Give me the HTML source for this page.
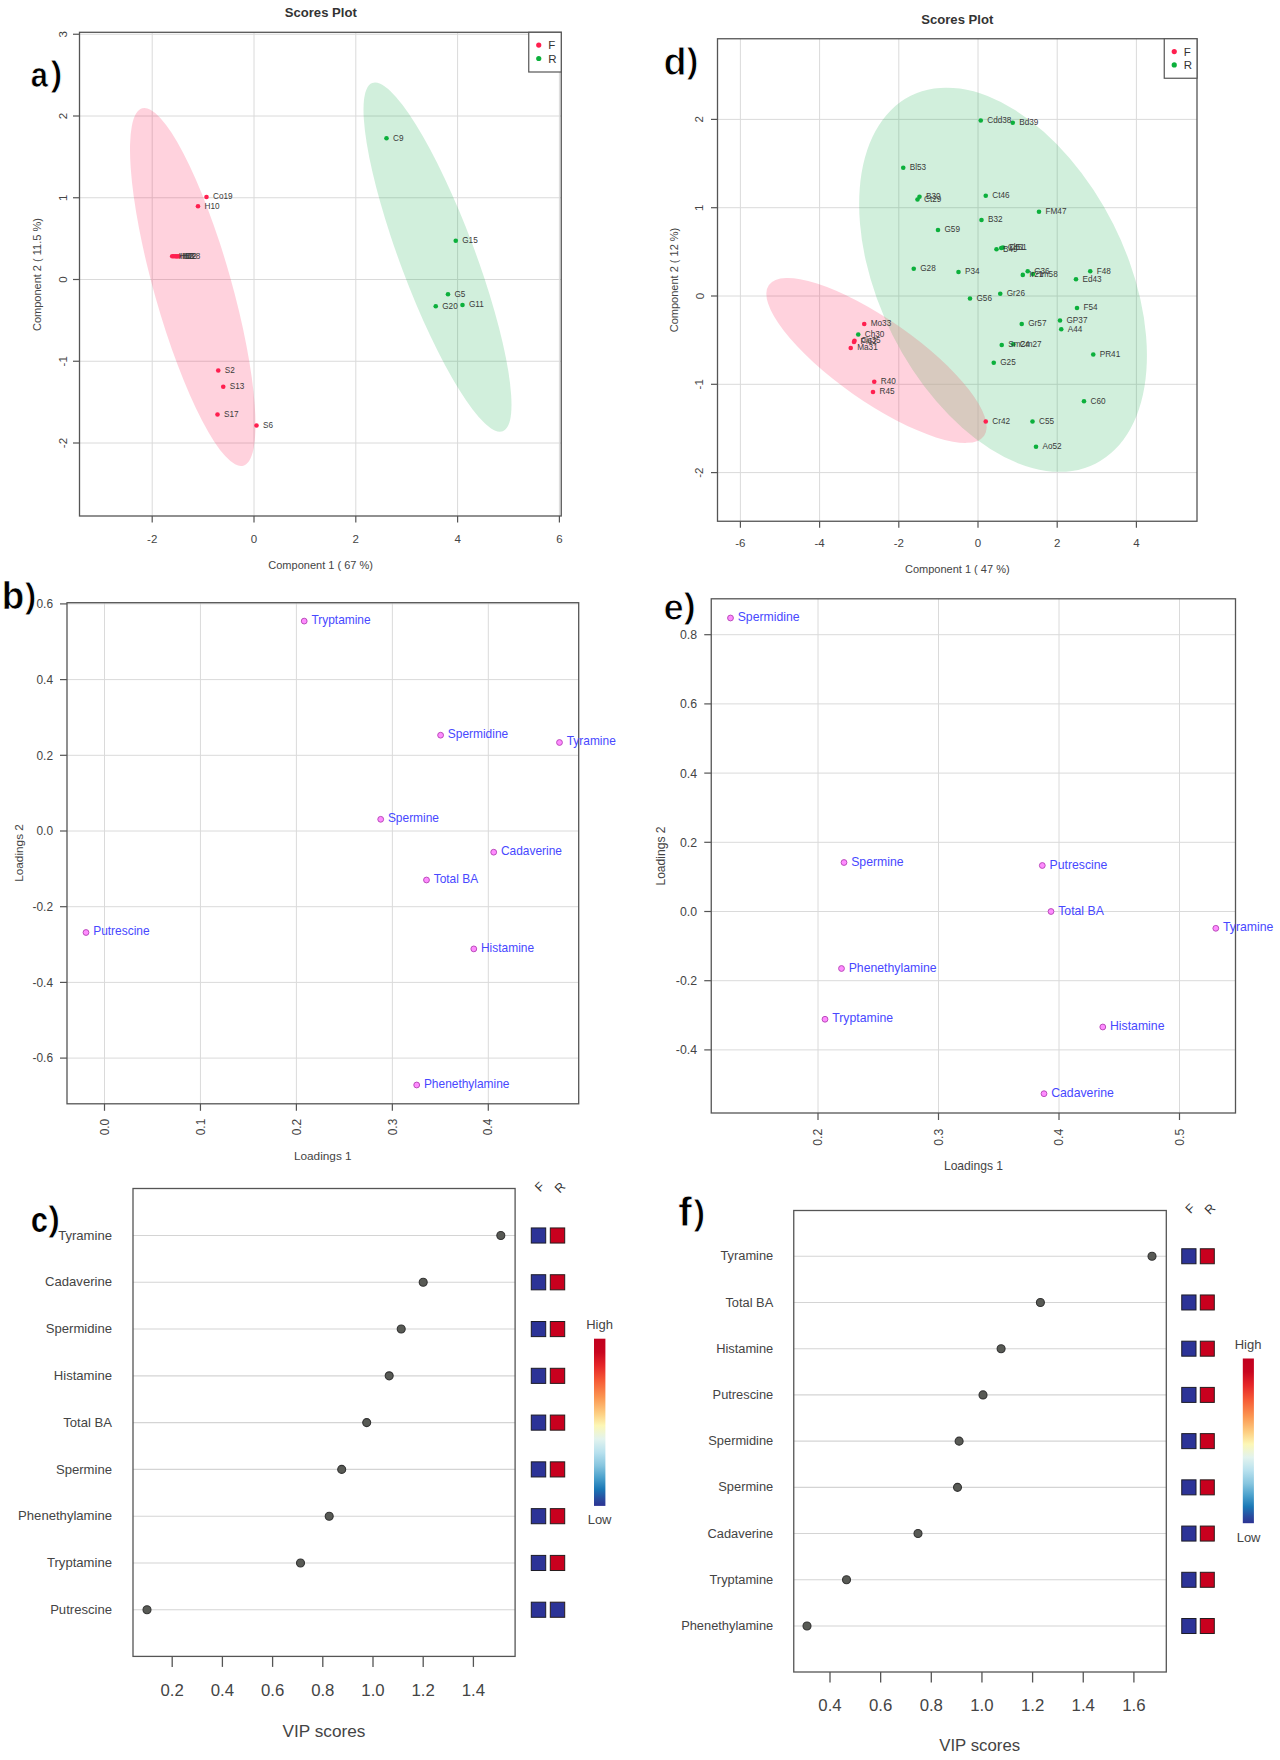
<!DOCTYPE html><html><head><meta charset="utf-8"><style>html,body{margin:0;padding:0;background:#fff;overflow:hidden;width:1280px;height:1760px;}svg{display:block;font-family:"Liberation Sans", sans-serif;}</style></head><body>
<svg width="1280" height="1760" viewBox="0 0 1280 1760">
<rect width="1280" height="1760" fill="#fff"/>
<line x1="152.2" y1="32.3" x2="152.2" y2="516" stroke="#dadada" stroke-width="1"/>
<line x1="254" y1="32.3" x2="254" y2="516" stroke="#dadada" stroke-width="1"/>
<line x1="355.8" y1="32.3" x2="355.8" y2="516" stroke="#dadada" stroke-width="1"/>
<line x1="457.6" y1="32.3" x2="457.6" y2="516" stroke="#dadada" stroke-width="1"/>
<line x1="559.4" y1="32.3" x2="559.4" y2="516" stroke="#dadada" stroke-width="1"/>
<line x1="79.5" y1="443" x2="561.25" y2="443" stroke="#dadada" stroke-width="1"/>
<line x1="79.5" y1="361.25" x2="561.25" y2="361.25" stroke="#dadada" stroke-width="1"/>
<line x1="79.5" y1="279.5" x2="561.25" y2="279.5" stroke="#dadada" stroke-width="1"/>
<line x1="79.5" y1="197.75" x2="561.25" y2="197.75" stroke="#dadada" stroke-width="1"/>
<line x1="79.5" y1="116" x2="561.25" y2="116" stroke="#dadada" stroke-width="1"/>
<line x1="79.5" y1="34.25" x2="561.25" y2="34.25" stroke="#dadada" stroke-width="1"/>
<ellipse cx="192.75" cy="287" rx="185.7" ry="38.67" transform="rotate(74.21 192.75 287)" fill="#ff1f55" fill-opacity="0.2"/>
<ellipse cx="437.5" cy="257.12" rx="185.97" ry="37.2" transform="rotate(69.45 437.5 257.12)" fill="#18b050" fill-opacity="0.2"/>
<circle cx="206.5" cy="197" r="2.3" fill="#ff1f4f"/>
<circle cx="198" cy="206.25" r="2.3" fill="#ff1f4f"/>
<circle cx="172.2" cy="256.2" r="2.3" fill="#ff1f4f"/>
<circle cx="173.8" cy="256.3" r="2.3" fill="#ff1f4f"/>
<circle cx="175.4" cy="256.2" r="2.3" fill="#ff1f4f"/>
<circle cx="177" cy="256.4" r="2.3" fill="#ff1f4f"/>
<circle cx="178.8" cy="256.2" r="2.3" fill="#ff1f4f"/>
<circle cx="218.25" cy="370.5" r="2.3" fill="#ff1f4f"/>
<circle cx="223.25" cy="386.75" r="2.3" fill="#ff1f4f"/>
<circle cx="217.5" cy="414.5" r="2.3" fill="#ff1f4f"/>
<circle cx="256.5" cy="425.5" r="2.3" fill="#ff1f4f"/>
<circle cx="386.5" cy="138.25" r="2.3" fill="#0cb03c"/>
<circle cx="455.75" cy="240.75" r="2.3" fill="#0cb03c"/>
<circle cx="448" cy="294.25" r="2.3" fill="#0cb03c"/>
<circle cx="435.75" cy="306.25" r="2.3" fill="#0cb03c"/>
<circle cx="462.5" cy="305" r="2.3" fill="#0cb03c"/>
<text x="213" y="199.4" font-size="8.2" text-anchor="start" fill="#3a3a3a">Co19</text>
<text x="204.5" y="208.65" font-size="8.2" text-anchor="start" fill="#3a3a3a">H10</text>
<text x="178.7" y="258.6" font-size="8.2" text-anchor="start" fill="#3a3a3a">H12</text>
<text x="180.3" y="258.7" font-size="8.2" text-anchor="start" fill="#3a3a3a">H7</text>
<text x="181.9" y="258.6" font-size="8.2" text-anchor="start" fill="#3a3a3a">H22</text>
<text x="183.5" y="258.8" font-size="8.2" text-anchor="start" fill="#3a3a3a">H3</text>
<text x="185.3" y="258.6" font-size="8.2" text-anchor="start" fill="#3a3a3a">H28</text>
<text x="224.75" y="372.9" font-size="8.2" text-anchor="start" fill="#3a3a3a">S2</text>
<text x="229.75" y="389.15" font-size="8.2" text-anchor="start" fill="#3a3a3a">S13</text>
<text x="224" y="416.9" font-size="8.2" text-anchor="start" fill="#3a3a3a">S17</text>
<text x="263" y="427.9" font-size="8.2" text-anchor="start" fill="#3a3a3a">S6</text>
<text x="393" y="140.65" font-size="8.2" text-anchor="start" fill="#3a3a3a">C9</text>
<text x="462.25" y="243.15" font-size="8.2" text-anchor="start" fill="#3a3a3a">G15</text>
<text x="454.5" y="296.65" font-size="8.2" text-anchor="start" fill="#3a3a3a">G5</text>
<text x="442.25" y="308.65" font-size="8.2" text-anchor="start" fill="#3a3a3a">G20</text>
<text x="469" y="307.4" font-size="8.2" text-anchor="start" fill="#3a3a3a">G11</text>
<rect x="79.5" y="32.3" width="481.75" height="483.7" fill="none" stroke="#555555" stroke-width="1.3"/>
<line x1="152.2" y1="516" x2="152.2" y2="522.5" stroke="#555555" stroke-width="1.2"/>
<text x="152.2" y="543" font-size="11.5" text-anchor="middle" fill="#444444">-2</text>
<line x1="254" y1="516" x2="254" y2="522.5" stroke="#555555" stroke-width="1.2"/>
<text x="254" y="543" font-size="11.5" text-anchor="middle" fill="#444444">0</text>
<line x1="355.8" y1="516" x2="355.8" y2="522.5" stroke="#555555" stroke-width="1.2"/>
<text x="355.8" y="543" font-size="11.5" text-anchor="middle" fill="#444444">2</text>
<line x1="457.6" y1="516" x2="457.6" y2="522.5" stroke="#555555" stroke-width="1.2"/>
<text x="457.6" y="543" font-size="11.5" text-anchor="middle" fill="#444444">4</text>
<line x1="559.4" y1="516" x2="559.4" y2="522.5" stroke="#555555" stroke-width="1.2"/>
<text x="559.4" y="543" font-size="11.5" text-anchor="middle" fill="#444444">6</text>
<line x1="73" y1="443" x2="79.5" y2="443" stroke="#555555" stroke-width="1.2"/>
<text x="66.6" y="443" font-size="11.5" text-anchor="middle" fill="#444444" transform="rotate(-90 66.6 443)">-2</text>
<line x1="73" y1="361.25" x2="79.5" y2="361.25" stroke="#555555" stroke-width="1.2"/>
<text x="66.6" y="361.25" font-size="11.5" text-anchor="middle" fill="#444444" transform="rotate(-90 66.6 361.25)">-1</text>
<line x1="73" y1="279.5" x2="79.5" y2="279.5" stroke="#555555" stroke-width="1.2"/>
<text x="66.6" y="279.5" font-size="11.5" text-anchor="middle" fill="#444444" transform="rotate(-90 66.6 279.5)">0</text>
<line x1="73" y1="197.75" x2="79.5" y2="197.75" stroke="#555555" stroke-width="1.2"/>
<text x="66.6" y="197.75" font-size="11.5" text-anchor="middle" fill="#444444" transform="rotate(-90 66.6 197.75)">1</text>
<line x1="73" y1="116" x2="79.5" y2="116" stroke="#555555" stroke-width="1.2"/>
<text x="66.6" y="116" font-size="11.5" text-anchor="middle" fill="#444444" transform="rotate(-90 66.6 116)">2</text>
<line x1="73" y1="34.25" x2="79.5" y2="34.25" stroke="#555555" stroke-width="1.2"/>
<text x="66.6" y="34.25" font-size="11.5" text-anchor="middle" fill="#444444" transform="rotate(-90 66.6 34.25)">3</text>
<text x="320.8" y="17.3" font-size="13.1" text-anchor="middle" fill="#333" font-weight="bold">Scores Plot</text>
<text x="320.6" y="569" font-size="11" text-anchor="middle" fill="#444444">Component 1 ( 67 %)</text>
<text x="41" y="274.6" font-size="11" text-anchor="middle" fill="#444444" transform="rotate(-90 41 274.6)">Component 2 ( 11.5 %)</text>
<rect x="528.75" y="32.3" width="32.5" height="39.7" fill="#fff" stroke="#555555" stroke-width="1.2"/>
<circle cx="538.75" cy="45.1" r="2.6" fill="#ff1f4f"/>
<circle cx="538.75" cy="58.5" r="2.6" fill="#0cb03c"/>
<text x="548.25" y="49.3" font-size="11.5" text-anchor="start" fill="#333">F</text>
<text x="548.25" y="62.7" font-size="11.5" text-anchor="start" fill="#333">R</text>
<line x1="740.4" y1="38.75" x2="740.4" y2="521.25" stroke="#dadada" stroke-width="1"/>
<line x1="819.6" y1="38.75" x2="819.6" y2="521.25" stroke="#dadada" stroke-width="1"/>
<line x1="898.8" y1="38.75" x2="898.8" y2="521.25" stroke="#dadada" stroke-width="1"/>
<line x1="978" y1="38.75" x2="978" y2="521.25" stroke="#dadada" stroke-width="1"/>
<line x1="1057.2" y1="38.75" x2="1057.2" y2="521.25" stroke="#dadada" stroke-width="1"/>
<line x1="1136.4" y1="38.75" x2="1136.4" y2="521.25" stroke="#dadada" stroke-width="1"/>
<line x1="717.5" y1="472.6" x2="1197" y2="472.6" stroke="#dadada" stroke-width="1"/>
<line x1="717.5" y1="384.3" x2="1197" y2="384.3" stroke="#dadada" stroke-width="1"/>
<line x1="717.5" y1="296" x2="1197" y2="296" stroke="#dadada" stroke-width="1"/>
<line x1="717.5" y1="207.7" x2="1197" y2="207.7" stroke="#dadada" stroke-width="1"/>
<line x1="717.5" y1="119.4" x2="1197" y2="119.4" stroke="#dadada" stroke-width="1"/>
<ellipse cx="1003.04" cy="279.75" rx="205.82" ry="123.47" transform="rotate(63.34 1003.04 279.75)" fill="#18b050" fill-opacity="0.2"/>
<ellipse cx="876.47" cy="360.42" rx="131.36" ry="40.86" transform="rotate(35.02 876.47 360.42)" fill="#ff1f55" fill-opacity="0.2"/>
<clipPath id="clipG"><ellipse cx="1003.04" cy="279.75" rx="205.82" ry="123.47" transform="rotate(63.34 1003.04 279.75)"/></clipPath>
<g clip-path="url(#clipG)"><ellipse cx="876.47" cy="360.42" rx="131.36" ry="40.86" transform="rotate(35.02 876.47 360.42)" fill="rgb(212,213,190)" fill-opacity="0.35"/></g>
<circle cx="980.75" cy="120.5" r="2.3" fill="#0cb03c"/>
<circle cx="1012.75" cy="122.75" r="2.3" fill="#0cb03c"/>
<circle cx="903.25" cy="167.75" r="2.3" fill="#0cb03c"/>
<circle cx="919.5" cy="196.75" r="2.3" fill="#0cb03c"/>
<circle cx="917.5" cy="199.5" r="2.3" fill="#0cb03c"/>
<circle cx="985.75" cy="195.75" r="2.3" fill="#0cb03c"/>
<circle cx="1039" cy="211.75" r="2.3" fill="#0cb03c"/>
<circle cx="981.5" cy="220" r="2.3" fill="#0cb03c"/>
<circle cx="938" cy="230" r="2.3" fill="#0cb03c"/>
<circle cx="996.5" cy="249.25" r="2.3" fill="#0cb03c"/>
<circle cx="1001.25" cy="248" r="2.3" fill="#0cb03c"/>
<circle cx="1003" cy="247.5" r="2.3" fill="#0cb03c"/>
<circle cx="913.75" cy="268.75" r="2.3" fill="#0cb03c"/>
<circle cx="958.5" cy="272" r="2.3" fill="#0cb03c"/>
<circle cx="1027.7" cy="271.2" r="2.3" fill="#0cb03c"/>
<circle cx="1022.8" cy="274.9" r="2.3" fill="#0cb03c"/>
<circle cx="1033" cy="274.1" r="2.3" fill="#0cb03c"/>
<circle cx="1090.25" cy="271.25" r="2.3" fill="#0cb03c"/>
<circle cx="1076" cy="279.25" r="2.3" fill="#0cb03c"/>
<circle cx="970" cy="298.5" r="2.3" fill="#0cb03c"/>
<circle cx="1000.25" cy="293.75" r="2.3" fill="#0cb03c"/>
<circle cx="1077" cy="308" r="2.3" fill="#0cb03c"/>
<circle cx="1060" cy="320.5" r="2.3" fill="#0cb03c"/>
<circle cx="1061.25" cy="329.25" r="2.3" fill="#0cb03c"/>
<circle cx="1021.75" cy="324" r="2.3" fill="#0cb03c"/>
<circle cx="1001.75" cy="345" r="2.3" fill="#0cb03c"/>
<circle cx="1013.25" cy="344.25" r="2.3" fill="#0cb03c"/>
<circle cx="1093.25" cy="354.5" r="2.3" fill="#0cb03c"/>
<circle cx="993.75" cy="362.75" r="2.3" fill="#0cb03c"/>
<circle cx="1084" cy="401.25" r="2.3" fill="#0cb03c"/>
<circle cx="1032.5" cy="421.5" r="2.3" fill="#0cb03c"/>
<circle cx="1036" cy="446.75" r="2.3" fill="#0cb03c"/>
<circle cx="858.25" cy="334.5" r="2.3" fill="#0cb03c"/>
<circle cx="864.25" cy="324" r="2.3" fill="#ff1f4f"/>
<circle cx="854.5" cy="340.75" r="2.3" fill="#ff1f4f"/>
<circle cx="854" cy="342" r="2.3" fill="#ff1f4f"/>
<circle cx="850.75" cy="348" r="2.3" fill="#ff1f4f"/>
<circle cx="874.25" cy="381.75" r="2.3" fill="#ff1f4f"/>
<circle cx="873" cy="392" r="2.3" fill="#ff1f4f"/>
<circle cx="985.75" cy="421.5" r="2.3" fill="#ff1f4f"/>
<text x="987.25" y="122.9" font-size="8.2" text-anchor="start" fill="#3a3a3a">Cdd38</text>
<text x="1019.25" y="125.15" font-size="8.2" text-anchor="start" fill="#3a3a3a">Bd39</text>
<text x="909.75" y="170.15" font-size="8.2" text-anchor="start" fill="#3a3a3a">Bl53</text>
<text x="926" y="199.15" font-size="8.2" text-anchor="start" fill="#3a3a3a">B30</text>
<text x="924" y="201.9" font-size="8.2" text-anchor="start" fill="#3a3a3a">Ct29</text>
<text x="992.25" y="198.15" font-size="8.2" text-anchor="start" fill="#3a3a3a">Ct46</text>
<text x="1045.5" y="214.15" font-size="8.2" text-anchor="start" fill="#3a3a3a">FM47</text>
<text x="988" y="222.4" font-size="8.2" text-anchor="start" fill="#3a3a3a">B32</text>
<text x="944.5" y="232.4" font-size="8.2" text-anchor="start" fill="#3a3a3a">G59</text>
<text x="1003" y="251.65" font-size="8.2" text-anchor="start" fill="#3a3a3a">B49</text>
<text x="1007.75" y="250.4" font-size="8.2" text-anchor="start" fill="#3a3a3a">Cl51</text>
<text x="1009.5" y="249.9" font-size="8.2" text-anchor="start" fill="#3a3a3a">Ct51</text>
<text x="920.25" y="271.15" font-size="8.2" text-anchor="start" fill="#3a3a3a">G28</text>
<text x="965" y="274.4" font-size="8.2" text-anchor="start" fill="#3a3a3a">P34</text>
<text x="1034.2" y="273.6" font-size="8.2" text-anchor="start" fill="#3a3a3a">G36</text>
<text x="1029.3" y="277.3" font-size="8.2" text-anchor="start" fill="#3a3a3a">Ir21</text>
<text x="1039.5" y="276.5" font-size="8.2" text-anchor="start" fill="#3a3a3a">Im58</text>
<text x="1096.75" y="273.65" font-size="8.2" text-anchor="start" fill="#3a3a3a">F48</text>
<text x="1082.5" y="281.65" font-size="8.2" text-anchor="start" fill="#3a3a3a">Ed43</text>
<text x="976.5" y="300.9" font-size="8.2" text-anchor="start" fill="#3a3a3a">G56</text>
<text x="1006.75" y="296.15" font-size="8.2" text-anchor="start" fill="#3a3a3a">Gr26</text>
<text x="1083.5" y="310.4" font-size="8.2" text-anchor="start" fill="#3a3a3a">F54</text>
<text x="1066.5" y="322.9" font-size="8.2" text-anchor="start" fill="#3a3a3a">GP37</text>
<text x="1067.75" y="331.65" font-size="8.2" text-anchor="start" fill="#3a3a3a">A44</text>
<text x="1028.25" y="326.4" font-size="8.2" text-anchor="start" fill="#3a3a3a">Gr57</text>
<text x="1008.25" y="347.4" font-size="8.2" text-anchor="start" fill="#3a3a3a">Sm24</text>
<text x="1019.75" y="346.65" font-size="8.2" text-anchor="start" fill="#3a3a3a">Cm27</text>
<text x="1099.75" y="356.9" font-size="8.2" text-anchor="start" fill="#3a3a3a">PR41</text>
<text x="1000.25" y="365.15" font-size="8.2" text-anchor="start" fill="#3a3a3a">G25</text>
<text x="1090.5" y="403.65" font-size="8.2" text-anchor="start" fill="#3a3a3a">C60</text>
<text x="1039" y="423.9" font-size="8.2" text-anchor="start" fill="#3a3a3a">C55</text>
<text x="1042.5" y="449.15" font-size="8.2" text-anchor="start" fill="#3a3a3a">Ao52</text>
<text x="864.75" y="336.9" font-size="8.2" text-anchor="start" fill="#3a3a3a">Ch30</text>
<text x="870.75" y="326.4" font-size="8.2" text-anchor="start" fill="#3a3a3a">Mo33</text>
<text x="861" y="343.15" font-size="8.2" text-anchor="start" fill="#3a3a3a">Cu35</text>
<text x="860.5" y="344.4" font-size="8.2" text-anchor="start" fill="#3a3a3a">Pi62</text>
<text x="857.25" y="350.4" font-size="8.2" text-anchor="start" fill="#3a3a3a">Ma31</text>
<text x="880.75" y="384.15" font-size="8.2" text-anchor="start" fill="#3a3a3a">R40</text>
<text x="879.5" y="394.4" font-size="8.2" text-anchor="start" fill="#3a3a3a">R45</text>
<text x="992.25" y="423.9" font-size="8.2" text-anchor="start" fill="#3a3a3a">Cr42</text>
<rect x="717.5" y="38.75" width="479.5" height="482.5" fill="none" stroke="#555555" stroke-width="1.3"/>
<line x1="740.4" y1="521.25" x2="740.4" y2="527.75" stroke="#555555" stroke-width="1.2"/>
<text x="740.4" y="546.5" font-size="11.5" text-anchor="middle" fill="#444444">-6</text>
<line x1="819.6" y1="521.25" x2="819.6" y2="527.75" stroke="#555555" stroke-width="1.2"/>
<text x="819.6" y="546.5" font-size="11.5" text-anchor="middle" fill="#444444">-4</text>
<line x1="898.8" y1="521.25" x2="898.8" y2="527.75" stroke="#555555" stroke-width="1.2"/>
<text x="898.8" y="546.5" font-size="11.5" text-anchor="middle" fill="#444444">-2</text>
<line x1="978" y1="521.25" x2="978" y2="527.75" stroke="#555555" stroke-width="1.2"/>
<text x="978" y="546.5" font-size="11.5" text-anchor="middle" fill="#444444">0</text>
<line x1="1057.2" y1="521.25" x2="1057.2" y2="527.75" stroke="#555555" stroke-width="1.2"/>
<text x="1057.2" y="546.5" font-size="11.5" text-anchor="middle" fill="#444444">2</text>
<line x1="1136.4" y1="521.25" x2="1136.4" y2="527.75" stroke="#555555" stroke-width="1.2"/>
<text x="1136.4" y="546.5" font-size="11.5" text-anchor="middle" fill="#444444">4</text>
<line x1="711" y1="472.6" x2="717.5" y2="472.6" stroke="#555555" stroke-width="1.2"/>
<text x="703.5" y="472.6" font-size="11.5" text-anchor="middle" fill="#444444" transform="rotate(-90 703.5 472.6)">-2</text>
<line x1="711" y1="384.3" x2="717.5" y2="384.3" stroke="#555555" stroke-width="1.2"/>
<text x="703.5" y="384.3" font-size="11.5" text-anchor="middle" fill="#444444" transform="rotate(-90 703.5 384.3)">-1</text>
<line x1="711" y1="296" x2="717.5" y2="296" stroke="#555555" stroke-width="1.2"/>
<text x="703.5" y="296" font-size="11.5" text-anchor="middle" fill="#444444" transform="rotate(-90 703.5 296)">0</text>
<line x1="711" y1="207.7" x2="717.5" y2="207.7" stroke="#555555" stroke-width="1.2"/>
<text x="703.5" y="207.7" font-size="11.5" text-anchor="middle" fill="#444444" transform="rotate(-90 703.5 207.7)">1</text>
<line x1="711" y1="119.4" x2="717.5" y2="119.4" stroke="#555555" stroke-width="1.2"/>
<text x="703.5" y="119.4" font-size="11.5" text-anchor="middle" fill="#444444" transform="rotate(-90 703.5 119.4)">2</text>
<text x="957.3" y="24.2" font-size="13.1" text-anchor="middle" fill="#333" font-weight="bold">Scores Plot</text>
<text x="957.3" y="572.5" font-size="11" text-anchor="middle" fill="#444444">Component 1 ( 47 %)</text>
<text x="677.6" y="280" font-size="11" text-anchor="middle" fill="#444444" transform="rotate(-90 677.6 280)">Component 2 ( 12 %)</text>
<rect x="1164.25" y="38.75" width="32.75" height="39.5" fill="#fff" stroke="#555555" stroke-width="1.2"/>
<circle cx="1174.25" cy="51.55" r="2.6" fill="#ff1f4f"/>
<circle cx="1174.25" cy="64.95" r="2.6" fill="#0cb03c"/>
<text x="1183.75" y="55.75" font-size="11.5" text-anchor="start" fill="#333">F</text>
<text x="1183.75" y="69.15" font-size="11.5" text-anchor="start" fill="#333">R</text>
<line x1="104.5" y1="602.7" x2="104.5" y2="1103.8" stroke="#dadada" stroke-width="1"/>
<line x1="200.45" y1="602.7" x2="200.45" y2="1103.8" stroke="#dadada" stroke-width="1"/>
<line x1="296.4" y1="602.7" x2="296.4" y2="1103.8" stroke="#dadada" stroke-width="1"/>
<line x1="392.35" y1="602.7" x2="392.35" y2="1103.8" stroke="#dadada" stroke-width="1"/>
<line x1="488.3" y1="602.7" x2="488.3" y2="1103.8" stroke="#dadada" stroke-width="1"/>
<line x1="67" y1="1058.1" x2="578.7" y2="1058.1" stroke="#dadada" stroke-width="1"/>
<line x1="67" y1="982.4" x2="578.7" y2="982.4" stroke="#dadada" stroke-width="1"/>
<line x1="67" y1="906.7" x2="578.7" y2="906.7" stroke="#dadada" stroke-width="1"/>
<line x1="67" y1="831" x2="578.7" y2="831" stroke="#dadada" stroke-width="1"/>
<line x1="67" y1="755.3" x2="578.7" y2="755.3" stroke="#dadada" stroke-width="1"/>
<line x1="67" y1="679.6" x2="578.7" y2="679.6" stroke="#dadada" stroke-width="1"/>
<line x1="67" y1="603.9" x2="578.7" y2="603.9" stroke="#dadada" stroke-width="1"/>
<rect x="67" y="602.7" width="511.7" height="501.1" fill="none" stroke="#555555" stroke-width="1.3"/>
<line x1="104.5" y1="1103.8" x2="104.5" y2="1110.8" stroke="#555555" stroke-width="1.2"/>
<text x="108.67" y="1118.75" font-size="11.9" text-anchor="end" fill="#444444" transform="rotate(-90 108.67 1118.75)">0.0</text>
<line x1="200.45" y1="1103.8" x2="200.45" y2="1110.8" stroke="#555555" stroke-width="1.2"/>
<text x="204.61" y="1118.75" font-size="11.9" text-anchor="end" fill="#444444" transform="rotate(-90 204.61 1118.75)">0.1</text>
<line x1="296.4" y1="1103.8" x2="296.4" y2="1110.8" stroke="#555555" stroke-width="1.2"/>
<text x="300.56" y="1118.75" font-size="11.9" text-anchor="end" fill="#444444" transform="rotate(-90 300.56 1118.75)">0.2</text>
<line x1="392.35" y1="1103.8" x2="392.35" y2="1110.8" stroke="#555555" stroke-width="1.2"/>
<text x="396.51" y="1118.75" font-size="11.9" text-anchor="end" fill="#444444" transform="rotate(-90 396.51 1118.75)">0.3</text>
<line x1="488.3" y1="1103.8" x2="488.3" y2="1110.8" stroke="#555555" stroke-width="1.2"/>
<text x="492.47" y="1118.75" font-size="11.9" text-anchor="end" fill="#444444" transform="rotate(-90 492.47 1118.75)">0.4</text>
<line x1="60" y1="1058.1" x2="67" y2="1058.1" stroke="#555555" stroke-width="1.2"/>
<text x="53" y="1062.38" font-size="11.9" text-anchor="end" fill="#444444">-0.6</text>
<line x1="60" y1="982.4" x2="67" y2="982.4" stroke="#555555" stroke-width="1.2"/>
<text x="53" y="986.68" font-size="11.9" text-anchor="end" fill="#444444">-0.4</text>
<line x1="60" y1="906.7" x2="67" y2="906.7" stroke="#555555" stroke-width="1.2"/>
<text x="53" y="910.98" font-size="11.9" text-anchor="end" fill="#444444">-0.2</text>
<line x1="60" y1="831" x2="67" y2="831" stroke="#555555" stroke-width="1.2"/>
<text x="53" y="835.28" font-size="11.9" text-anchor="end" fill="#444444">0.0</text>
<line x1="60" y1="755.3" x2="67" y2="755.3" stroke="#555555" stroke-width="1.2"/>
<text x="53" y="759.58" font-size="11.9" text-anchor="end" fill="#444444">0.2</text>
<line x1="60" y1="679.6" x2="67" y2="679.6" stroke="#555555" stroke-width="1.2"/>
<text x="53" y="683.88" font-size="11.9" text-anchor="end" fill="#444444">0.4</text>
<line x1="60" y1="603.9" x2="67" y2="603.9" stroke="#555555" stroke-width="1.2"/>
<text x="53" y="608.18" font-size="11.9" text-anchor="end" fill="#444444">0.6</text>
<text x="322.8" y="1159.8" font-size="11.8" text-anchor="middle" fill="#444444">Loadings 1</text>
<text x="22.5" y="853" font-size="11.8" text-anchor="middle" fill="#444444" transform="rotate(-90 22.5 853)">Loadings 2</text>
<circle cx="304.2" cy="621.1" r="2.9" fill="#ff8cff" stroke="#bb4cbb" stroke-width="1"/>
<text x="311.4" y="624.09" font-size="11.95" text-anchor="start" fill="#4848ff">Tryptamine</text>
<circle cx="440.6" cy="735.2" r="2.9" fill="#ff8cff" stroke="#bb4cbb" stroke-width="1"/>
<text x="447.8" y="738.19" font-size="11.95" text-anchor="start" fill="#4848ff">Spermidine</text>
<circle cx="559.5" cy="742.5" r="2.9" fill="#ff8cff" stroke="#bb4cbb" stroke-width="1"/>
<text x="566.7" y="745.49" font-size="11.95" text-anchor="start" fill="#4848ff">Tyramine</text>
<circle cx="380.7" cy="819.3" r="2.9" fill="#ff8cff" stroke="#bb4cbb" stroke-width="1"/>
<text x="387.9" y="822.29" font-size="11.95" text-anchor="start" fill="#4848ff">Spermine</text>
<circle cx="493.7" cy="852.2" r="2.9" fill="#ff8cff" stroke="#bb4cbb" stroke-width="1"/>
<text x="500.9" y="855.19" font-size="11.95" text-anchor="start" fill="#4848ff">Cadaverine</text>
<circle cx="426.5" cy="880" r="2.9" fill="#ff8cff" stroke="#bb4cbb" stroke-width="1"/>
<text x="433.7" y="882.99" font-size="11.95" text-anchor="start" fill="#4848ff">Total BA</text>
<circle cx="86" cy="932.5" r="2.9" fill="#ff8cff" stroke="#bb4cbb" stroke-width="1"/>
<text x="93.2" y="935.49" font-size="11.95" text-anchor="start" fill="#4848ff">Putrescine</text>
<circle cx="473.8" cy="948.9" r="2.9" fill="#ff8cff" stroke="#bb4cbb" stroke-width="1"/>
<text x="481" y="951.89" font-size="11.95" text-anchor="start" fill="#4848ff">Histamine</text>
<circle cx="416.7" cy="1085" r="2.9" fill="#ff8cff" stroke="#bb4cbb" stroke-width="1"/>
<text x="423.9" y="1087.99" font-size="11.95" text-anchor="start" fill="#4848ff">Phenethylamine</text>
<line x1="818" y1="598.8" x2="818" y2="1113" stroke="#dadada" stroke-width="1"/>
<line x1="938.5" y1="598.8" x2="938.5" y2="1113" stroke="#dadada" stroke-width="1"/>
<line x1="1059" y1="598.8" x2="1059" y2="1113" stroke="#dadada" stroke-width="1"/>
<line x1="1179.5" y1="598.8" x2="1179.5" y2="1113" stroke="#dadada" stroke-width="1"/>
<line x1="711.25" y1="1049.9" x2="1235.5" y2="1049.9" stroke="#dadada" stroke-width="1"/>
<line x1="711.25" y1="980.7" x2="1235.5" y2="980.7" stroke="#dadada" stroke-width="1"/>
<line x1="711.25" y1="911.5" x2="1235.5" y2="911.5" stroke="#dadada" stroke-width="1"/>
<line x1="711.25" y1="842.3" x2="1235.5" y2="842.3" stroke="#dadada" stroke-width="1"/>
<line x1="711.25" y1="773.1" x2="1235.5" y2="773.1" stroke="#dadada" stroke-width="1"/>
<line x1="711.25" y1="703.9" x2="1235.5" y2="703.9" stroke="#dadada" stroke-width="1"/>
<line x1="711.25" y1="634.7" x2="1235.5" y2="634.7" stroke="#dadada" stroke-width="1"/>
<rect x="711.25" y="598.8" width="524.25" height="514.2" fill="none" stroke="#555555" stroke-width="1.3"/>
<line x1="818" y1="1113" x2="818" y2="1120" stroke="#555555" stroke-width="1.2"/>
<text x="822.3" y="1128.75" font-size="12.3" text-anchor="end" fill="#444444" transform="rotate(-90 822.3 1128.75)">0.2</text>
<line x1="938.5" y1="1113" x2="938.5" y2="1120" stroke="#555555" stroke-width="1.2"/>
<text x="942.8" y="1128.75" font-size="12.3" text-anchor="end" fill="#444444" transform="rotate(-90 942.8 1128.75)">0.3</text>
<line x1="1059" y1="1113" x2="1059" y2="1120" stroke="#555555" stroke-width="1.2"/>
<text x="1063.31" y="1128.75" font-size="12.3" text-anchor="end" fill="#444444" transform="rotate(-90 1063.31 1128.75)">0.4</text>
<line x1="1179.5" y1="1113" x2="1179.5" y2="1120" stroke="#555555" stroke-width="1.2"/>
<text x="1183.81" y="1128.75" font-size="12.3" text-anchor="end" fill="#444444" transform="rotate(-90 1183.81 1128.75)">0.5</text>
<line x1="704.25" y1="1049.9" x2="711.25" y2="1049.9" stroke="#555555" stroke-width="1.2"/>
<text x="697" y="1054.33" font-size="12.3" text-anchor="end" fill="#444444">-0.4</text>
<line x1="704.25" y1="980.7" x2="711.25" y2="980.7" stroke="#555555" stroke-width="1.2"/>
<text x="697" y="985.13" font-size="12.3" text-anchor="end" fill="#444444">-0.2</text>
<line x1="704.25" y1="911.5" x2="711.25" y2="911.5" stroke="#555555" stroke-width="1.2"/>
<text x="697" y="915.93" font-size="12.3" text-anchor="end" fill="#444444">0.0</text>
<line x1="704.25" y1="842.3" x2="711.25" y2="842.3" stroke="#555555" stroke-width="1.2"/>
<text x="697" y="846.73" font-size="12.3" text-anchor="end" fill="#444444">0.2</text>
<line x1="704.25" y1="773.1" x2="711.25" y2="773.1" stroke="#555555" stroke-width="1.2"/>
<text x="697" y="777.53" font-size="12.3" text-anchor="end" fill="#444444">0.4</text>
<line x1="704.25" y1="703.9" x2="711.25" y2="703.9" stroke="#555555" stroke-width="1.2"/>
<text x="697" y="708.33" font-size="12.3" text-anchor="end" fill="#444444">0.6</text>
<line x1="704.25" y1="634.7" x2="711.25" y2="634.7" stroke="#555555" stroke-width="1.2"/>
<text x="697" y="639.13" font-size="12.3" text-anchor="end" fill="#444444">0.8</text>
<text x="973.5" y="1170" font-size="12.1" text-anchor="middle" fill="#444444">Loadings 1</text>
<text x="665" y="856" font-size="12.1" text-anchor="middle" fill="#444444" transform="rotate(-90 665 856)">Loadings 2</text>
<circle cx="730.5" cy="618" r="2.9" fill="#ff8cff" stroke="#bb4cbb" stroke-width="1"/>
<text x="737.7" y="621.06" font-size="12.25" text-anchor="start" fill="#4848ff">Spermidine</text>
<circle cx="844" cy="862.5" r="2.9" fill="#ff8cff" stroke="#bb4cbb" stroke-width="1"/>
<text x="851.2" y="865.56" font-size="12.25" text-anchor="start" fill="#4848ff">Spermine</text>
<circle cx="1042.3" cy="865.5" r="2.9" fill="#ff8cff" stroke="#bb4cbb" stroke-width="1"/>
<text x="1049.5" y="868.56" font-size="12.25" text-anchor="start" fill="#4848ff">Putrescine</text>
<circle cx="1051" cy="911.5" r="2.9" fill="#ff8cff" stroke="#bb4cbb" stroke-width="1"/>
<text x="1058.2" y="914.56" font-size="12.25" text-anchor="start" fill="#4848ff">Total BA</text>
<circle cx="1215.8" cy="928.3" r="2.9" fill="#ff8cff" stroke="#bb4cbb" stroke-width="1"/>
<text x="1223" y="931.36" font-size="12.25" text-anchor="start" fill="#4848ff">Tyramine</text>
<circle cx="841.5" cy="968.5" r="2.9" fill="#ff8cff" stroke="#bb4cbb" stroke-width="1"/>
<text x="848.7" y="971.56" font-size="12.25" text-anchor="start" fill="#4848ff">Phenethylamine</text>
<circle cx="825" cy="1019.25" r="2.9" fill="#ff8cff" stroke="#bb4cbb" stroke-width="1"/>
<text x="832.2" y="1022.31" font-size="12.25" text-anchor="start" fill="#4848ff">Tryptamine</text>
<circle cx="1102.8" cy="1027" r="2.9" fill="#ff8cff" stroke="#bb4cbb" stroke-width="1"/>
<text x="1110" y="1030.06" font-size="12.25" text-anchor="start" fill="#4848ff">Histamine</text>
<circle cx="1044" cy="1093.7" r="2.9" fill="#ff8cff" stroke="#bb4cbb" stroke-width="1"/>
<text x="1051.2" y="1096.76" font-size="12.25" text-anchor="start" fill="#4848ff">Cadaverine</text>
<defs><linearGradient id="cbar" x1="0" y1="0" x2="0" y2="1"><stop offset="0.0" stop-color="#c1001f"/><stop offset="0.08" stop-color="#c8051f"/><stop offset="0.16" stop-color="#e52528"/><stop offset="0.25" stop-color="#f65a35"/><stop offset="0.35" stop-color="#fb9550"/><stop offset="0.45" stop-color="#fdd083"/><stop offset="0.52" stop-color="#fcf7b6"/><stop offset="0.6" stop-color="#e2f3ee"/><stop offset="0.68" stop-color="#b8e1ee"/><stop offset="0.76" stop-color="#86c5df"/><stop offset="0.83" stop-color="#4ca2cd"/><stop offset="0.9" stop-color="#1a78b6"/><stop offset="0.96" stop-color="#2a4a9e"/><stop offset="1.0" stop-color="#2c3393"/></linearGradient></defs>
<line x1="133" y1="1235.5" x2="515.1" y2="1235.5" stroke="#d4d4d4" stroke-width="1.1"/>
<line x1="133" y1="1282.28" x2="515.1" y2="1282.28" stroke="#d4d4d4" stroke-width="1.1"/>
<line x1="133" y1="1329.06" x2="515.1" y2="1329.06" stroke="#d4d4d4" stroke-width="1.1"/>
<line x1="133" y1="1375.84" x2="515.1" y2="1375.84" stroke="#d4d4d4" stroke-width="1.1"/>
<line x1="133" y1="1422.62" x2="515.1" y2="1422.62" stroke="#d4d4d4" stroke-width="1.1"/>
<line x1="133" y1="1469.4" x2="515.1" y2="1469.4" stroke="#d4d4d4" stroke-width="1.1"/>
<line x1="133" y1="1516.18" x2="515.1" y2="1516.18" stroke="#d4d4d4" stroke-width="1.1"/>
<line x1="133" y1="1562.96" x2="515.1" y2="1562.96" stroke="#d4d4d4" stroke-width="1.1"/>
<line x1="133" y1="1609.74" x2="515.1" y2="1609.74" stroke="#d4d4d4" stroke-width="1.1"/>
<rect x="133" y="1188.5" width="382.1" height="467.9" fill="none" stroke="#555555" stroke-width="1.3"/>
<line x1="172.2" y1="1656.4" x2="172.2" y2="1666.9" stroke="#555555" stroke-width="1.3"/>
<text x="172.2" y="1695.5" font-size="16.8" text-anchor="middle" fill="#444444">0.2</text>
<line x1="222.4" y1="1656.4" x2="222.4" y2="1666.9" stroke="#555555" stroke-width="1.3"/>
<text x="222.4" y="1695.5" font-size="16.8" text-anchor="middle" fill="#444444">0.4</text>
<line x1="272.6" y1="1656.4" x2="272.6" y2="1666.9" stroke="#555555" stroke-width="1.3"/>
<text x="272.6" y="1695.5" font-size="16.8" text-anchor="middle" fill="#444444">0.6</text>
<line x1="322.8" y1="1656.4" x2="322.8" y2="1666.9" stroke="#555555" stroke-width="1.3"/>
<text x="322.8" y="1695.5" font-size="16.8" text-anchor="middle" fill="#444444">0.8</text>
<line x1="373" y1="1656.4" x2="373" y2="1666.9" stroke="#555555" stroke-width="1.3"/>
<text x="373" y="1695.5" font-size="16.8" text-anchor="middle" fill="#444444">1.0</text>
<line x1="423.2" y1="1656.4" x2="423.2" y2="1666.9" stroke="#555555" stroke-width="1.3"/>
<text x="423.2" y="1695.5" font-size="16.8" text-anchor="middle" fill="#444444">1.2</text>
<line x1="473.4" y1="1656.4" x2="473.4" y2="1666.9" stroke="#555555" stroke-width="1.3"/>
<text x="473.4" y="1695.5" font-size="16.8" text-anchor="middle" fill="#444444">1.4</text>
<text x="324" y="1736.6" font-size="17.2" text-anchor="middle" fill="#444444">VIP scores</text>
<text x="112" y="1239.6" font-size="13.1" text-anchor="end" fill="#444444">Tyramine</text>
<circle cx="500.81" cy="1235.5" r="4" fill="#585a55" stroke="#333" stroke-width="1.1"/>
<rect x="531.3" y="1227.95" width="14.4" height="15.1" fill="#2c3397" stroke="#1c1c28" stroke-width="1"/>
<rect x="550.3" y="1227.95" width="14.4" height="15.1" fill="#c8001e" stroke="#281c1c" stroke-width="1"/>
<text x="112" y="1286.38" font-size="13.1" text-anchor="end" fill="#444444">Cadaverine</text>
<circle cx="423.2" cy="1282.28" r="4" fill="#585a55" stroke="#333" stroke-width="1.1"/>
<rect x="531.3" y="1274.73" width="14.4" height="15.1" fill="#2c3397" stroke="#1c1c28" stroke-width="1"/>
<rect x="550.3" y="1274.73" width="14.4" height="15.1" fill="#c8001e" stroke="#281c1c" stroke-width="1"/>
<text x="112" y="1333.16" font-size="13.1" text-anchor="end" fill="#444444">Spermidine</text>
<circle cx="401.21" cy="1329.06" r="4" fill="#585a55" stroke="#333" stroke-width="1.1"/>
<rect x="531.3" y="1321.51" width="14.4" height="15.1" fill="#2c3397" stroke="#1c1c28" stroke-width="1"/>
<rect x="550.3" y="1321.51" width="14.4" height="15.1" fill="#c8001e" stroke="#281c1c" stroke-width="1"/>
<text x="112" y="1379.94" font-size="13.1" text-anchor="end" fill="#444444">Histamine</text>
<circle cx="389.19" cy="1375.84" r="4" fill="#585a55" stroke="#333" stroke-width="1.1"/>
<rect x="531.3" y="1368.29" width="14.4" height="15.1" fill="#2c3397" stroke="#1c1c28" stroke-width="1"/>
<rect x="550.3" y="1368.29" width="14.4" height="15.1" fill="#c8001e" stroke="#281c1c" stroke-width="1"/>
<text x="112" y="1426.72" font-size="13.1" text-anchor="end" fill="#444444">Total BA</text>
<circle cx="366.7" cy="1422.62" r="4" fill="#585a55" stroke="#333" stroke-width="1.1"/>
<rect x="531.3" y="1415.07" width="14.4" height="15.1" fill="#2c3397" stroke="#1c1c28" stroke-width="1"/>
<rect x="550.3" y="1415.07" width="14.4" height="15.1" fill="#c8001e" stroke="#281c1c" stroke-width="1"/>
<text x="112" y="1473.5" font-size="13.1" text-anchor="end" fill="#444444">Spermine</text>
<circle cx="341.7" cy="1469.4" r="4" fill="#585a55" stroke="#333" stroke-width="1.1"/>
<rect x="531.3" y="1461.85" width="14.4" height="15.1" fill="#2c3397" stroke="#1c1c28" stroke-width="1"/>
<rect x="550.3" y="1461.85" width="14.4" height="15.1" fill="#c8001e" stroke="#281c1c" stroke-width="1"/>
<text x="112" y="1520.28" font-size="13.1" text-anchor="end" fill="#444444">Phenethylamine</text>
<circle cx="329.2" cy="1516.18" r="4" fill="#585a55" stroke="#333" stroke-width="1.1"/>
<rect x="531.3" y="1508.63" width="14.4" height="15.1" fill="#2c3397" stroke="#1c1c28" stroke-width="1"/>
<rect x="550.3" y="1508.63" width="14.4" height="15.1" fill="#c8001e" stroke="#281c1c" stroke-width="1"/>
<text x="112" y="1567.06" font-size="13.1" text-anchor="end" fill="#444444">Tryptamine</text>
<circle cx="300.51" cy="1562.96" r="4" fill="#585a55" stroke="#333" stroke-width="1.1"/>
<rect x="531.3" y="1555.41" width="14.4" height="15.1" fill="#2c3397" stroke="#1c1c28" stroke-width="1"/>
<rect x="550.3" y="1555.41" width="14.4" height="15.1" fill="#c8001e" stroke="#281c1c" stroke-width="1"/>
<text x="112" y="1613.84" font-size="13.1" text-anchor="end" fill="#444444">Putrescine</text>
<circle cx="147" cy="1609.74" r="4" fill="#585a55" stroke="#333" stroke-width="1.1"/>
<rect x="531.3" y="1602.19" width="14.4" height="15.1" fill="#2c3397" stroke="#1c1c28" stroke-width="1"/>
<rect x="550.3" y="1602.19" width="14.4" height="15.1" fill="#2c3397" stroke="#281c1c" stroke-width="1"/>
<text x="539.6" y="1186.6" font-size="12.5" text-anchor="middle" fill="#333" transform="rotate(-45 539.6 1186.6)" dy="0.36em">F</text>
<text x="559.8" y="1187.3" font-size="12.5" text-anchor="middle" fill="#333" transform="rotate(-45 559.8 1187.3)" dy="0.36em">R</text>
<rect x="594" y="1338.7" width="11.4" height="167.2" fill="url(#cbar)"/>
<text x="599.6" y="1328.5" font-size="13" text-anchor="middle" fill="#444444">High</text>
<text x="599.6" y="1524.2" font-size="13" text-anchor="middle" fill="#444444">Low</text>
<line x1="793.75" y1="1256.25" x2="1166.3" y2="1256.25" stroke="#d4d4d4" stroke-width="1.1"/>
<line x1="793.75" y1="1302.47" x2="1166.3" y2="1302.47" stroke="#d4d4d4" stroke-width="1.1"/>
<line x1="793.75" y1="1348.69" x2="1166.3" y2="1348.69" stroke="#d4d4d4" stroke-width="1.1"/>
<line x1="793.75" y1="1394.91" x2="1166.3" y2="1394.91" stroke="#d4d4d4" stroke-width="1.1"/>
<line x1="793.75" y1="1441.13" x2="1166.3" y2="1441.13" stroke="#d4d4d4" stroke-width="1.1"/>
<line x1="793.75" y1="1487.35" x2="1166.3" y2="1487.35" stroke="#d4d4d4" stroke-width="1.1"/>
<line x1="793.75" y1="1533.57" x2="1166.3" y2="1533.57" stroke="#d4d4d4" stroke-width="1.1"/>
<line x1="793.75" y1="1579.79" x2="1166.3" y2="1579.79" stroke="#d4d4d4" stroke-width="1.1"/>
<line x1="793.75" y1="1626.01" x2="1166.3" y2="1626.01" stroke="#d4d4d4" stroke-width="1.1"/>
<rect x="793.75" y="1210.5" width="372.55" height="461.5" fill="none" stroke="#555555" stroke-width="1.3"/>
<line x1="830" y1="1672" x2="830" y2="1682.5" stroke="#555555" stroke-width="1.3"/>
<text x="830" y="1711" font-size="16.8" text-anchor="middle" fill="#444444">0.4</text>
<line x1="880.65" y1="1672" x2="880.65" y2="1682.5" stroke="#555555" stroke-width="1.3"/>
<text x="880.65" y="1711" font-size="16.8" text-anchor="middle" fill="#444444">0.6</text>
<line x1="931.3" y1="1672" x2="931.3" y2="1682.5" stroke="#555555" stroke-width="1.3"/>
<text x="931.3" y="1711" font-size="16.8" text-anchor="middle" fill="#444444">0.8</text>
<line x1="981.95" y1="1672" x2="981.95" y2="1682.5" stroke="#555555" stroke-width="1.3"/>
<text x="981.95" y="1711" font-size="16.8" text-anchor="middle" fill="#444444">1.0</text>
<line x1="1032.6" y1="1672" x2="1032.6" y2="1682.5" stroke="#555555" stroke-width="1.3"/>
<text x="1032.6" y="1711" font-size="16.8" text-anchor="middle" fill="#444444">1.2</text>
<line x1="1083.25" y1="1672" x2="1083.25" y2="1682.5" stroke="#555555" stroke-width="1.3"/>
<text x="1083.25" y="1711" font-size="16.8" text-anchor="middle" fill="#444444">1.4</text>
<line x1="1133.9" y1="1672" x2="1133.9" y2="1682.5" stroke="#555555" stroke-width="1.3"/>
<text x="1133.9" y="1711" font-size="16.8" text-anchor="middle" fill="#444444">1.6</text>
<text x="979.7" y="1751.2" font-size="16.8" text-anchor="middle" fill="#444444">VIP scores</text>
<text x="773.25" y="1260.35" font-size="12.85" text-anchor="end" fill="#444444">Tyramine</text>
<circle cx="1152.01" cy="1256.25" r="4" fill="#585a55" stroke="#333" stroke-width="1.1"/>
<rect x="1181.75" y="1248.75" width="14.25" height="15" fill="#2c3397" stroke="#1c1c28" stroke-width="1"/>
<rect x="1200.3" y="1248.75" width="14" height="15" fill="#c8001e" stroke="#281c1c" stroke-width="1"/>
<text x="773.25" y="1306.57" font-size="12.85" text-anchor="end" fill="#444444">Total BA</text>
<circle cx="1040.4" cy="1302.47" r="4" fill="#585a55" stroke="#333" stroke-width="1.1"/>
<rect x="1181.75" y="1294.97" width="14.25" height="15" fill="#2c3397" stroke="#1c1c28" stroke-width="1"/>
<rect x="1200.3" y="1294.97" width="14" height="15" fill="#c8001e" stroke="#281c1c" stroke-width="1"/>
<text x="773.25" y="1352.79" font-size="12.85" text-anchor="end" fill="#444444">Histamine</text>
<circle cx="1001.1" cy="1348.69" r="4" fill="#585a55" stroke="#333" stroke-width="1.1"/>
<rect x="1181.75" y="1341.19" width="14.25" height="15" fill="#2c3397" stroke="#1c1c28" stroke-width="1"/>
<rect x="1200.3" y="1341.19" width="14" height="15" fill="#c8001e" stroke="#281c1c" stroke-width="1"/>
<text x="773.25" y="1399.01" font-size="12.85" text-anchor="end" fill="#444444">Putrescine</text>
<circle cx="983.01" cy="1394.91" r="4" fill="#585a55" stroke="#333" stroke-width="1.1"/>
<rect x="1181.75" y="1387.41" width="14.25" height="15" fill="#2c3397" stroke="#1c1c28" stroke-width="1"/>
<rect x="1200.3" y="1387.41" width="14" height="15" fill="#c8001e" stroke="#281c1c" stroke-width="1"/>
<text x="773.25" y="1445.23" font-size="12.85" text-anchor="end" fill="#444444">Spermidine</text>
<circle cx="959.11" cy="1441.13" r="4" fill="#585a55" stroke="#333" stroke-width="1.1"/>
<rect x="1181.75" y="1433.63" width="14.25" height="15" fill="#2c3397" stroke="#1c1c28" stroke-width="1"/>
<rect x="1200.3" y="1433.63" width="14" height="15" fill="#c8001e" stroke="#281c1c" stroke-width="1"/>
<text x="773.25" y="1491.45" font-size="12.85" text-anchor="end" fill="#444444">Spermine</text>
<circle cx="957.51" cy="1487.35" r="4" fill="#585a55" stroke="#333" stroke-width="1.1"/>
<rect x="1181.75" y="1479.85" width="14.25" height="15" fill="#2c3397" stroke="#1c1c28" stroke-width="1"/>
<rect x="1200.3" y="1479.85" width="14" height="15" fill="#c8001e" stroke="#281c1c" stroke-width="1"/>
<text x="773.25" y="1537.67" font-size="12.85" text-anchor="end" fill="#444444">Cadaverine</text>
<circle cx="918" cy="1533.57" r="4" fill="#585a55" stroke="#333" stroke-width="1.1"/>
<rect x="1181.75" y="1526.07" width="14.25" height="15" fill="#2c3397" stroke="#1c1c28" stroke-width="1"/>
<rect x="1200.3" y="1526.07" width="14" height="15" fill="#c8001e" stroke="#281c1c" stroke-width="1"/>
<text x="773.25" y="1583.89" font-size="12.85" text-anchor="end" fill="#444444">Tryptamine</text>
<circle cx="846.51" cy="1579.79" r="4" fill="#585a55" stroke="#333" stroke-width="1.1"/>
<rect x="1181.75" y="1572.29" width="14.25" height="15" fill="#2c3397" stroke="#1c1c28" stroke-width="1"/>
<rect x="1200.3" y="1572.29" width="14" height="15" fill="#c8001e" stroke="#281c1c" stroke-width="1"/>
<text x="773.25" y="1630.11" font-size="12.85" text-anchor="end" fill="#444444">Phenethylamine</text>
<circle cx="807" cy="1626.01" r="4" fill="#585a55" stroke="#333" stroke-width="1.1"/>
<rect x="1181.75" y="1618.51" width="14.25" height="15" fill="#2c3397" stroke="#1c1c28" stroke-width="1"/>
<rect x="1200.3" y="1618.51" width="14" height="15" fill="#c8001e" stroke="#281c1c" stroke-width="1"/>
<text x="1190" y="1208.4" font-size="12.5" text-anchor="middle" fill="#333" transform="rotate(-45 1190 1208.4)" dy="0.36em">F</text>
<text x="1209.7" y="1208.8" font-size="12.5" text-anchor="middle" fill="#333" transform="rotate(-45 1209.7 1208.8)" dy="0.36em">R</text>
<rect x="1242.8" y="1358.5" width="11.1" height="164.7" fill="url(#cbar)"/>
<text x="1248.1" y="1348.5" font-size="13" text-anchor="middle" fill="#444444">High</text>
<text x="1248.6" y="1542" font-size="13" text-anchor="middle" fill="#444444">Low</text>
<text font-size="34.91" font-weight="bold" fill="#000" stroke="#fff" stroke-width="0.6" transform="translate(30.73 86.55) scale(0.8815 1)">a</text>
<text font-size="34.87" font-weight="bold" fill="#000" stroke="#fff" stroke-width="1" transform="translate(50.21 85.58) scale(1.0653 1)">)</text>
<text font-size="37.96" font-weight="bold" fill="#000" stroke="#fff" stroke-width="0.6" transform="translate(1.81 608.92) scale(0.9703 1)">b</text>
<text font-size="35.08" font-weight="bold" fill="#000" stroke="#fff" stroke-width="1" transform="translate(24.52 607.83) scale(1.0384 1)">)</text>
<text font-size="35.38" font-weight="bold" fill="#000" stroke="#fff" stroke-width="0.16" transform="translate(30.91 1232.33) scale(0.8543 1)">c</text>
<text font-size="34.97" font-weight="bold" fill="#000" stroke="#fff" stroke-width="1" transform="translate(47.71 1231.26) scale(1.0825 1)">)</text>
<text font-size="38.91" font-weight="bold" fill="#000" stroke="#fff" stroke-width="1" transform="translate(663.39 74.91) scale(0.9720 1)">d</text>
<text font-size="34.65" font-weight="bold" fill="#000" stroke="#fff" stroke-width="1" transform="translate(686.52 73.42) scale(1.0513 1)">)</text>
<text font-size="36.55" font-weight="bold" fill="#000" stroke="#fff" stroke-width="1" transform="translate(663.54 619.63) scale(0.9976 1)">e</text>
<text font-size="34.76" font-weight="bold" fill="#000" stroke="#fff" stroke-width="1" transform="translate(683.61 618.2) scale(1.0686 1)">)</text>
<text font-size="39.86" font-weight="bold" fill="#000" stroke="#fff" stroke-width="1" transform="translate(678.07 1226) scale(1.0583 1)">f</text>
<text font-size="35.08" font-weight="bold" fill="#000" stroke="#fff" stroke-width="1" transform="translate(693.32 1224.53) scale(1.0384 1)">)</text>
</svg></body></html>
